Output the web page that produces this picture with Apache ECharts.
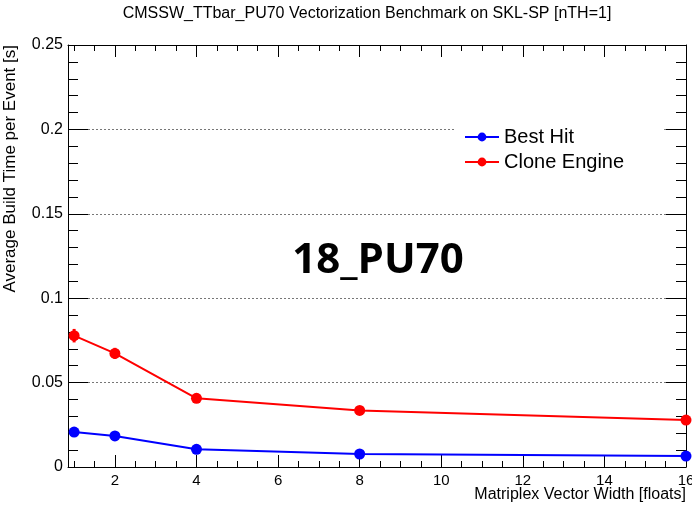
<!DOCTYPE html>
<html>
<head>
<meta charset="utf-8">
<script src="https://cdn.jsdelivr.net/npm/echarts@6/dist/echarts.min.js"></script>
<style>html,body{margin:0;padding:0;background:#fff;}#c{width:692px;height:505px;}</style>
</head>
<body>
<div id="c"></div>
<script>
var xValues = [1, 2, 4, 8, 16];
var bestHit = [0.0207, 0.0184, 0.0105, 0.0077, 0.0065];
var bestHitErr = [0.001, 0.001, 0.0008, 0.0005, 0.0005];
var cloneEngine = [0.0778, 0.0673, 0.0407, 0.0335, 0.0278];
var cloneEngineErr = [0.004, 0.0033, 0.0015, 0.001, 0.001];
var xMajorTicks = [2, 4, 6, 8, 10, 12, 14, 16];
var xMinorTicks = [1, 1.5, 2.5, 3, 3.5, 4.5, 5, 5.5, 6.5, 7, 7.5, 8.5, 9, 9.5, 10.5, 11, 11.5, 12.5, 13, 13.5, 14.5, 15, 15.5];
var seriesNames = ['Best Hit', 'Clone Engine'];
var titleText = 'CMSSW_TTbar_PU70 Vectorization Benchmark on SKL-SP [nTH=1]';
var xTitle = 'Matriplex Vector Width [floats]';
var yTitle = 'Average Build Time per Event [s]';
var labelText = '18_PU70';

var FONT = 'Liberation Sans';
var chart = echarts.init(document.getElementById('c'), null, {renderer: 'canvas'});

function pairs(ys) { return xValues.map(function (x, i) { return [x, ys[i]]; }); }
function errData(ys, es) { return xValues.map(function (x, i) { return [x, ys[i] - es[i], ys[i] + es[i]]; }); }
function errSeries(ys, es, color) {
  return {
    type: 'custom', xAxisIndex: 0, yAxisIndex: 0, silent: true, z: 3,
    data: errData(ys, es),
    renderItem: function (params, api) {
      var p1 = api.coord([api.value(0), api.value(1)]);
      var p2 = api.coord([api.value(0), api.value(2)]);
      return {type: 'line', shape: {x1: p1[0], y1: p1[1], x2: p2[0], y2: p2[1]}, style: {stroke: color, lineWidth: 3}};
    }
  };
}
function xAxisDef(pos, ticks, len, showLine, showLabel) {
  return {
    type: 'value', position: pos, min: 0.85, max: 16,
    axisLine: {show: showLine, onZero: false, lineStyle: {color: '#000', width: 1}},
    axisTick: {show: true, inside: true, length: len, customValues: ticks, lineStyle: {color: '#000'}},
    axisLabel: {show: showLabel, customValues: xMajorTicks, fontFamily: FONT, fontSize: 15, color: '#000', margin: 6},
    splitLine: {show: false}
  };
}
function yAxisDef(pos, showLabel, grid) {
  return {
    type: 'value', position: pos, min: 0, max: 0.25, interval: 0.05,
    axisLine: {show: true, onZero: false, lineStyle: {color: '#000', width: 1}},
    axisTick: {show: true, inside: true, length: 20, lineStyle: {color: '#000'}},
    minorTick: {show: true, splitNumber: 5, length: 10, lineStyle: {color: '#000'}},
    axisLabel: {show: showLabel, fontFamily: FONT, fontSize: 16, color: '#000', margin: 5},
    splitLine: {show: grid, lineStyle: {color: '#777', type: [2, 2], width: 1}}
  };
}

var option = {
  animation: false,
  backgroundColor: '#fff',
  grid: {left: 68, right: 6, top: 45, bottom: 38, containLabel: false, outerBoundsMode: 'none'},
  xAxis: [
    xAxisDef('bottom', xMajorTicks, 12, true, true),
    xAxisDef('bottom', xMinorTicks, 6, false, false),
    xAxisDef('top', xMajorTicks, 12, true, false),
    xAxisDef('top', xMinorTicks, 6, false, false)
  ],
  yAxis: [yAxisDef('left', true, true), yAxisDef('right', false, false)],
  legend: {
    orient: 'vertical', left: 454, top: 120, backgroundColor: '#fff',
    padding: [6, 40, 6, 10], itemWidth: 34, itemHeight: 11, itemGap: 3,
    textStyle: {fontFamily: FONT, fontSize: 20, color: '#000', lineHeight: 22},
    data: seriesNames, z: 10
  },
  graphic: [
    {type: 'text', x: 367, y: 14, style: {text: titleText, font: '16px "Liberation Sans"', fill: '#000', textAlign: 'center', textVerticalAlign: 'middle'}},
    {type: 'text', x: 686, y: 495, style: {text: xTitle, font: '16px "Liberation Sans"', fill: '#000', textAlign: 'right', textVerticalAlign: 'middle'}},
    {type: 'text', x: 10, y: 45, rotation: Math.PI / 2, style: {text: yTitle, font: '17px "Liberation Sans"', fill: '#000', textAlign: 'right', textVerticalAlign: 'middle'}},
    {type: 'text', x: 378, y: 261, z: 5, style: {text: labelText, font: 'bold 42px "Open Sans"', fill: '#000', textAlign: 'center', textVerticalAlign: 'middle'}}
  ],
  series: [
    {name: seriesNames[0], type: 'line', xAxisIndex: 0, yAxisIndex: 0, data: pairs(bestHit), symbol: 'circle', symbolSize: 11, z: 4,
     itemStyle: {color: '#0000ff'}, lineStyle: {color: '#0000ff', width: 2}},
    {name: seriesNames[1], type: 'line', xAxisIndex: 0, yAxisIndex: 0, data: pairs(cloneEngine), symbol: 'circle', symbolSize: 11, z: 4,
     itemStyle: {color: '#ff0000'}, lineStyle: {color: '#ff0000', width: 2}},
    errSeries(bestHit, bestHitErr, '#0000ff'),
    errSeries(cloneEngine, cloneEngineErr, '#ff0000')
  ]
};
chart.setOption(option);
</script>
</body>
</html>
